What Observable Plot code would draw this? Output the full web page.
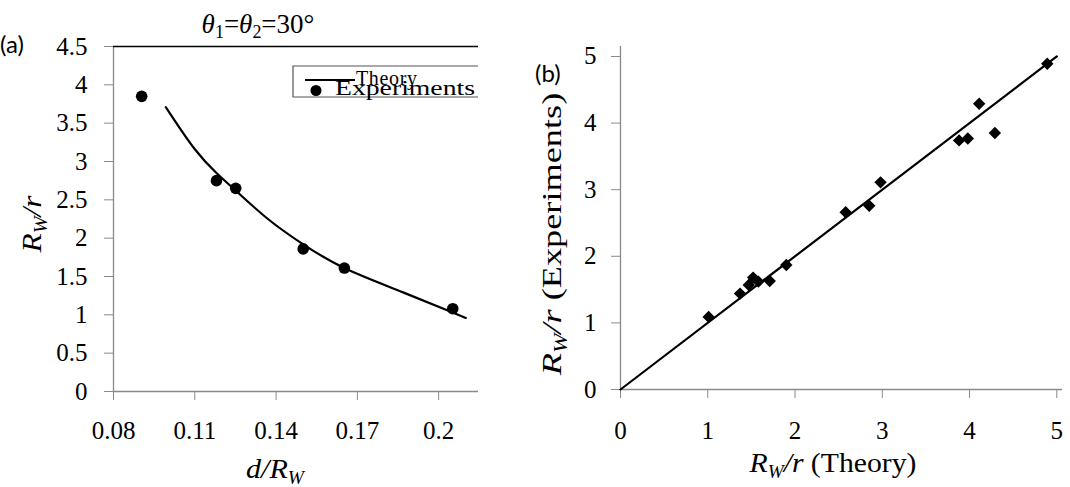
<!DOCTYPE html>
<html>
<head>
<meta charset="utf-8">
<script src="https://cdn.jsdelivr.net/npm/d3@7"></script>
<script src="https://cdn.jsdelivr.net/npm/@observablehq/plot@0.6"></script>
<style>
  html, body { margin: 0; padding: 0; background: #fff; }
  #chart { position: relative; width: 1070px; height: 487px; overflow: hidden; background: #fff; }
  #chart svg { position: absolute; top: 0; overflow: visible; }
  #chart svg text { font-family: 'Liberation Serif', 'Times New Roman', 'DejaVu Serif', serif; }
  #chart svg text.sans { font-family: Lato, 'Open Sans', 'Liberation Sans', sans-serif; }
</style>
</head>
<body>
<div id="chart"></div>
<script>
// ---- Panel (a): R_W/r against d/R_W for θ1 = θ2 = 30° ----
const theoryD = [0.0993, 0.1098, 0.118, 0.1251, 0.137, 0.150, 0.1652, 0.186, 0.2052, 0.210];
const theoryR = [3.71, 3.17, 2.85, 2.62, 2.25, 1.92, 1.61, 1.305, 1.03, 0.96];
const expD = [0.0904, 0.118, 0.1251, 0.150, 0.1652, 0.2052];
const expR = [3.85, 2.75, 2.65, 1.86, 1.61, 1.08];
const dTicks = [0.08, 0.11, 0.14, 0.17, 0.2];
const dTickLabels = ["0.08", "0.11", "0.14", "0.17", "0.2"];
const rTicks = [0, 0.5, 1, 1.5, 2, 2.5, 3, 3.5, 4, 4.5];
const rTickLabels = ["0", "0.5", "1", "1.5", "2", "2.5", "3", "3.5", "4", "4.5"];

// ---- Panel (b): experimental against theoretical R_W/r ----
const compTheory = [1.01, 1.37, 1.47, 1.52, 1.58, 1.71, 1.90, 2.58, 2.85, 2.98, 3.88, 3.98, 4.11, 4.29, 4.89];
const compExper  = [1.09, 1.44, 1.57, 1.68, 1.62, 1.63, 1.87, 2.66, 2.76, 3.11, 3.74, 3.77, 4.29, 3.85, 4.89];
const parityLine = [0, 5];
const bTicks = [0, 1, 2, 3, 4, 5];
const bTickLabels = ["0", "1", "2", "3", "4", "5"];

const SERIF = "'Liberation Serif', 'Times New Roman', 'DejaVu Serif', serif";
const AXIS_GRAY = "#8a8a8a";

const theory = theoryD.map((d, i) => ({d, r: theoryR[i]}));
const experiments = expD.map((d, i) => ({d, r: expR[i]}));
const comparison = compTheory.map((t, i) => ({t, e: compExper[i]}));
const parity = parityLine.map(v => ({t: v, e: v}));

const dLabel = new Map(dTicks.map((t, i) => [t, dTickLabels[i]]));
const rLabel = new Map(rTicks.map((t, i) => [t, rTickLabels[i]]));
const bLabel = new Map(bTicks.map((t, i) => [t, bTickLabels[i]]));

const tickText = {fontSize: 25, fill: "black"};

const left = Plot.plot({
  width: 535, height: 487,
  marginLeft: 113, marginRight: 57, marginTop: 46, marginBottom: 96,
  x: {domain: [0.08, 0.2147]},
  y: {domain: [0, 4.5]},
  style: {fontFamily: SERIF, fontSize: "25px", background: "transparent", overflow: "visible"},
  marks: [
    Plot.ruleX([0.08], {stroke: AXIS_GRAY, strokeWidth: 1.3}),
    Plot.ruleY([0], {stroke: AXIS_GRAY, strokeWidth: 1.3}),
    Plot.ruleY([4.5], {stroke: "black", strokeWidth: 1.6}),
    Plot.axisX({ticks: dTicks, tickFormat: d => dLabel.get(d), tickSize: 9, tickPadding: 21, stroke: AXIS_GRAY, ...tickText, label: null}),
    Plot.axisY({ticks: rTicks, tickFormat: d => rLabel.get(d), tickSize: 9, tickPadding: 17, stroke: AXIS_GRAY, ...tickText, label: null}),
    Plot.line(theory, {x: "d", y: "r", curve: "natural", stroke: "black", strokeWidth: 2.2}),
    Plot.dot(experiments, {x: "d", y: "r", r: 5.8, fill: "black", stroke: null})
  ]
});

const right = Plot.plot({
  width: 535, height: 487,
  marginLeft: 85, marginRight: 8, marginTop: 46, marginBottom: 98,
  x: {domain: [0, 5.065]},
  y: {domain: [0, 5.15]},
  style: {fontFamily: SERIF, fontSize: "25px", background: "transparent", overflow: "visible"},
  marks: [
    Plot.ruleX([0], {stroke: AXIS_GRAY, strokeWidth: 1.3}),
    Plot.ruleY([0], {stroke: AXIS_GRAY, strokeWidth: 1.3}),
    Plot.axisX({ticks: bTicks, tickFormat: d => bLabel.get(d), tickSize: 9, tickPadding: 23, stroke: AXIS_GRAY, ...tickText, label: null}),
    Plot.axisY({ticks: bTicks, tickFormat: d => bLabel.get(d), tickSize: 9, tickPadding: 15, stroke: AXIS_GRAY, ...tickText, label: null}),
    Plot.line(parity, {x: "t", y: "e", stroke: "black", strokeWidth: 2.2}),
    Plot.dot(comparison, {x: "t", y: "e", symbol: "diamond2", r: 5.6, fill: "black", stroke: null})
  ]
});

const chart = document.getElementById("chart");
left.style.left = "0px";
right.style.left = "535px";
chart.append(left, right);

// Rich text (italics and subscripts) drawn straight into each SVG;
// opts.length stretches the run along its own direction to that length.
function richText(svg, x, y, parts, opts = {}) {
  const size = opts.size || 28;
  const t = d3.select(svg).append("text")
    .attr("class", opts.sans ? "sans" : null)
    .style("font-size", size + "px")
    .attr("fill", "black")
    .attr("text-anchor", opts.anchor || "middle");
  let shift = 0;
  for (const p of parts) {
    const ts = t.append("tspan").text(p.text);
    if (p.italic) ts.attr("font-style", "italic");
    const target = p.sub ? Math.round(size * 0.2) : 0;
    if (target !== shift) { ts.attr("dy", target - shift); shift = target; }
    if (p.sub) ts.style("font-size", Math.round(size * 0.66) + "px");
  }
  let transform = `translate(${x},${y})` + (opts.rotate ? ` rotate(${opts.rotate})` : "");
  if (opts.length) {
    const w = t.node().getBBox().width;
    if (w > 0) transform += ` scale(${(opts.length / w).toFixed(3)},1)`;
  }
  t.attr("transform", transform);
  return t;
}

// panel (a) annotations
richText(left, 258, 33, [
  {text: "θ", italic: true}, {text: "1", sub: true}, {text: "="},
  {text: "θ", italic: true}, {text: "2", sub: true}, {text: "=30°"}
], {size: 27});
richText(left, 0, 53, [{text: "(a)"}], {sans: true, size: 24, anchor: "start"});
richText(left, 41, 224, [
  {text: "R", italic: true}, {text: "W", italic: true, sub: true}, {text: "/r", italic: true}
], {rotate: -90, length: 58});
richText(left, 275, 478, [
  {text: "d", italic: true}, {text: "/", italic: true}, {text: "R", italic: true}, {text: "W", italic: true, sub: true}
], {length: 60});

// legend box, open on its right where the plot area ends
const lg = d3.select(left).append("g").attr("text-anchor", "start");
lg.append("path").attr("d", "M478,66H293V97H478").attr("fill", "white").attr("stroke", "#555").attr("stroke-width", 1.2);
lg.append("line").attr("x1", 305).attr("x2", 355).attr("y1", 80).attr("y2", 80).attr("stroke", "black").attr("stroke-width", 2.2);
lg.append("text").attr("x", 356).attr("y", 85).style("font-size", "20px").attr("textLength", 61).text("Theory");
lg.append("circle").attr("cx", 316).attr("cy", 90.5).attr("r", 5.5).attr("fill", "black");
lg.append("text").attr("x", 335).attr("y", 95).style("font-size", "20px")
  .attr("textLength", 140).attr("lengthAdjust", "spacingAndGlyphs").text("Experiments");

// panel (b) annotations
richText(right, 0, 82, [{text: "(b)"}], {sans: true, size: 24, anchor: "start"});
richText(right, 26, 234, [
  {text: "R", italic: true}, {text: "W", italic: true, sub: true}, {text: "/r", italic: true}, {text: " (Experiments)"}
], {rotate: -90, length: 284});
richText(right, 298, 472, [
  {text: "R", italic: true}, {text: "W", italic: true, sub: true}, {text: "/r", italic: true}, {text: " (Theory)"}
], {length: 168});
</script>
</body>
</html>
